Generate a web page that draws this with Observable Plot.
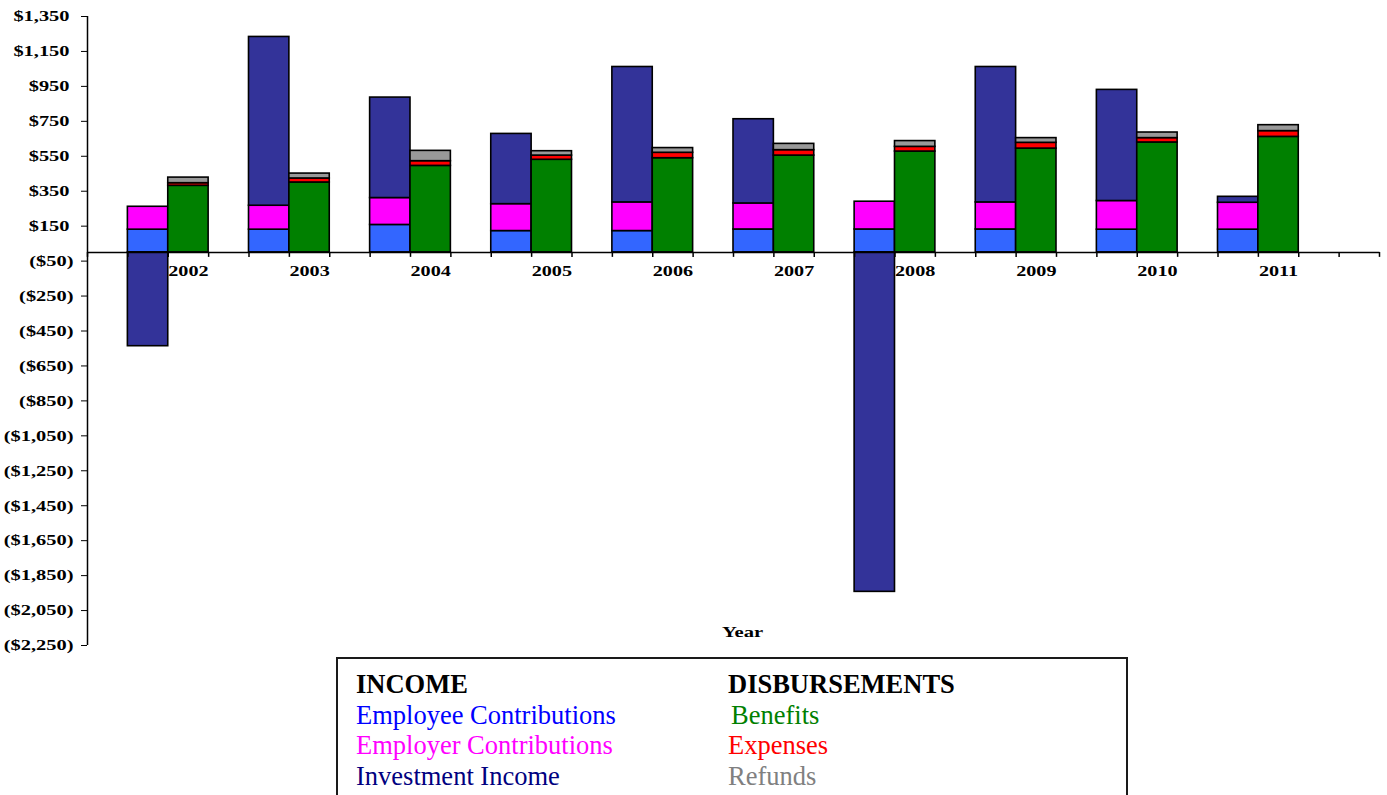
<!DOCTYPE html>
<html>
<head>
<meta charset="utf-8">
<script src="https://cdn.jsdelivr.net/npm/d3@7"></script>
<script src="https://cdn.jsdelivr.net/npm/@observablehq/plot@0.6"></script>
<style>
  body { margin: 0; background: #fff; overflow: hidden; }
  #chart svg { display: block; }
  .legend {
    margin-left: 336px;
    width: 792px;
    height: 160px;
    box-sizing: border-box;
    border: 2px solid #1a1a1a;
    border-bottom: none;
    padding: 10px 0 0 18px;
    display: grid;
    grid-template-columns: 372px auto;
    grid-auto-rows: 30.5px;
    font-family: "Times New Roman", "Liberation Serif", serif;
    font-size: 26.5px;
    line-height: 30.5px;
    white-space: nowrap;
  }
  .legend .head { font-weight: bold; color: #000; }
</style>
</head>
<body>
<div id="chart"></div>
<div class="legend" id="legend"></div>
<script>
// Fiscal years shown on the category axis
const years = [2002, 2003, 2004, 2005, 2006, 2007, 2008, 2009, 2010, 2011];

// Income components ($ millions)
const employee   = [130, 130, 157, 122, 122, 131, 131, 131, 130, 130];
const employer   = [131, 137, 154, 154, 164, 149, 159, 155, 164, 154];
const investment = [-537, 966, 575, 402, 775, 482, -1943, 775, 636, 34];

// Disbursement components ($ millions)
const benefits = [381, 400, 495, 530, 539, 554, 577, 594, 629, 661];
const expenses = [15, 23, 27, 24, 31, 31, 27, 33, 25, 33];
const refunds  = [32, 28, 59, 25, 27, 36, 33, 27, 32, 34];

// Series names, bar fills and legend text colours
const incomeSeries = ["Employee Contributions", "Employer Contributions", "Investment Income"];
const disbSeries   = ["Benefits", "Expenses", "Refunds"];
const barFills     = ["#3366FF", "#FF00FF", "#333399", "#008000", "#FF0000", "#999999"];
const legendInks   = ["#0000FF", "#FF00FF", "#000080", "#008000", "#FF0000", "#808080"];

// Y-axis ticks
const yTicks = d3.range(-2250, 1351, 200);

// Each year occupies three slots: income column, disbursement column, gap.
const SLOTS = 3;
const totalSlots = 1 + years.length * SLOTS + 1;

const rows = [];
years.forEach((yr, i) => {
  const s = 1 + i * SLOTS;
  [employee, employer, investment].forEach((arr, k) =>
    rows.push({slot: s, series: incomeSeries[k], value: arr[i]}));
  [benefits, expenses, refunds].forEach((arr, k) =>
    rows.push({slot: s + 1, series: disbSeries[k], value: arr[i]}));
});

const fmt = d3.format(",");
const money = v => v < 0 ? `($${fmt(-v)})` : `$${fmt(v)}`;
const serif = `"Times New Roman", "Liberation Serif", serif`;
const axisTitle = "Year";

const chart = Plot.plot({
  width: 1387,
  height: 657,
  marginLeft: 87,
  marginRight: 8,
  marginTop: 16,
  marginBottom: 12,
  style: {fontFamily: serif, fontSize: "15px", fontWeight: "bold", background: "#fff", color: "#000"},
  x: {domain: [0, totalSlots], axis: null},
  y: {
    domain: [-2250, 1350],
    ticks: yTicks,
    tickFormat: money,
    tickSize: 6,
    tickPadding: 8,
    label: null
  },
  color: {domain: [...incomeSeries, ...disbSeries], range: barFills},
  marks: [
    Plot.rectY(rows, {
      x1: "slot",
      x2: d => d.slot + 1,
      y: "value",
      fill: "series",
      stroke: "#000",
      strokeWidth: 1.6
    }),
    // category axis along zero
    Plot.ruleY([0], {stroke: "#000", strokeWidth: 1.5}),
    Plot.ruleX(d3.range(0, totalSlots + 1), {
      x: d => d, y1: 0, y2: 0, insetBottom: -5, stroke: "#000", strokeWidth: 1.5
    }),
    // value axis line
    Plot.ruleX([0], {stroke: "#000", strokeWidth: 1.5}),
    Plot.text(years, {
      x: (d, i) => 1 + i * SLOTS + 1.5,
      y: 0,
      text: d => String(d),
      dy: 18.5,
      fontSize: 15.5,
      fontWeight: "bold",
      fill: "#000"
    }),
    Plot.text([axisTitle], {
      frameAnchor: "bottom",
      lineAnchor: "middle",
      dx: 9,
      dy: -13,
      fontSize: 15.5,
      fontWeight: "bold",
      fill: "#000"
    })
  ]
});

document.getElementById("chart").append(chart);

// Widen the bold axis lettering
function stretchText(t, k) {
  const w = t.getComputedTextLength();
  t.setAttribute("textLength", (w * k).toFixed(1));
  t.setAttribute("lengthAdjust", "spacingAndGlyphs");
}
const yearNames = new Set(years.map(String));
chart.querySelectorAll('g[aria-label="y-axis tick label"] text').forEach(t => {
  stretchText(t, 1.36);
  // positive amounts leave room for the closing parenthesis
  if (!t.textContent.startsWith("(")) t.setAttribute("dx", "-4");
});
chart.querySelectorAll("text").forEach(t => {
  const s = t.textContent;
  if (yearNames.has(s)) stretchText(t, 1.3);
  else if (s === axisTitle) stretchText(t, 1.33);
});

// Legend: INCOME column and DISBURSEMENTS column
const legend = document.getElementById("legend");
const cell = (txt, color, cls) => {
  const d = document.createElement("div");
  d.textContent = txt;
  if (cls) d.className = cls;
  if (color) d.style.color = color;
  return d;
};
legend.append(cell("INCOME", null, "head"), cell("DISBURSEMENTS", null, "head"));
incomeSeries.forEach((name, k) => {
  legend.append(cell(name, legendInks[k]));
  const right = cell(disbSeries[k], legendInks[3 + k]);
  if (k === 0) right.style.paddingLeft = "3px";
  legend.append(right);
});
</script>
</body>
</html>
